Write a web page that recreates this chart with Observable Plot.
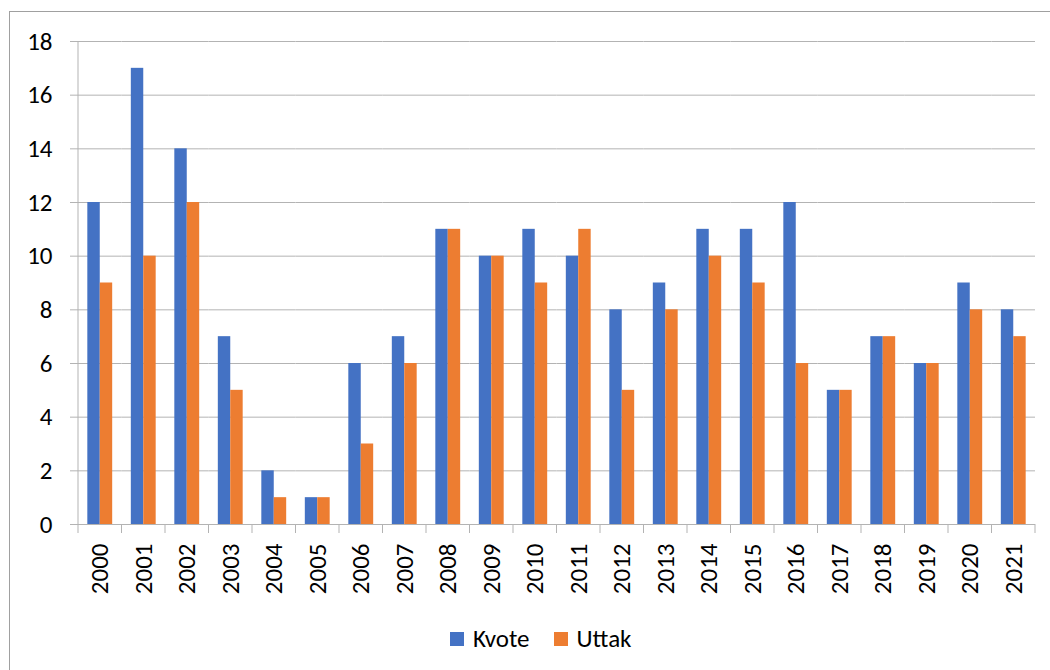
<!DOCTYPE html>
<html>
<head>
<meta charset="utf-8">
<script src="https://cdn.jsdelivr.net/npm/d3@7"></script>
<script src="https://cdn.jsdelivr.net/npm/@observablehq/plot@0.6"></script>
<style>
  html, body { margin: 0; padding: 0; background: #fff; overflow: hidden; }
  #wrap { position: relative; width: 1050px; height: 670px; font-family: Calibri, Carlito, Lato, sans-serif; }
  #border { position: absolute; left: 9px; top: 11px; width: 1100px; height: 700px; border: 1px solid #a0a0a0; box-sizing: border-box; }
  #chart { position: absolute; left: 0; top: 0; }
  #legend { position: absolute; top: 623px; left: 450px; display: flex; align-items: center; font-size: 25px; color: #000; }
  .item { display: flex; align-items: center; margin-right: 24px; }
  .sw { width: 14px; height: 14px; margin-right: 9px; }
</style>
</head>
<body>
<div id="wrap">
  <div id="border"></div>
  <div id="chart"></div>
  <div id="legend"></div>
</div>
<script>
const years = ["2000","2001","2002","2003","2004","2005","2006","2007","2008","2009","2010","2011","2012","2013","2014","2015","2016","2017","2018","2019","2020","2021"];
const kvote = [12,17,14,7,2,1,6,7,11,10,11,10,8,9,11,11,12,5,7,6,9,8];
const uttak = [9,10,12,5,1,1,3,6,11,10,9,11,5,8,10,9,6,5,7,6,8,7];
const seriesNames = ["Kvote","Uttak"];
const seriesColors = ["#4472C4","#ED7D31"];
const yTicks = [0,2,4,6,8,10,12,14,16,18];

const data = [];
years.forEach((yr, i) => {
  data.push({year: yr, series: "Kvote", value: kvote[i]});
  data.push({year: yr, series: "Uttak", value: uttak[i]});
});

const gridColor = "#b3b3b3";

const frameMarks = (index, scales, values, dims) => {
  const g = d3.create("svg:g");
  const fx = scales.fx;
  const W = dims.width - dims.marginLeft - dims.marginRight;
  const step = W / years.length;
  let bw = step;
  if (fx && typeof fx.bandwidth === "function") bw = fx.bandwidth();
  else if (fx && typeof fx.bandwidth === "number") bw = fx.bandwidth;
  const edges = d3.range(years.length + 1).map(i =>
    fx ? (i < years.length ? fx(years[i]) : fx(years[years.length - 1]) + bw) : dims.marginLeft + i * step)
    .filter(e => Number.isFinite(e));
  const y = scales.y;
  const y0 = y ? y(0) : dims.height - dims.marginBottom;
  const yTop = y ? y(d3.max(yTicks)) : dims.marginTop;
  g.append("line").attr("x1", edges[0]).attr("x2", edges[0]).attr("y1", yTop).attr("y2", y0)
    .attr("stroke", gridColor);
  edges.forEach(e => {
    g.append("line").attr("x1", e).attr("x2", e).attr("y1", y0).attr("y2", y0 + 9).attr("stroke", gridColor);
  });
  return g.node();
};

const chart = Plot.plot({
  width: 1050,
  height: 610,
  marginTop: 41,
  marginBottom: 86,
  marginLeft: 78,
  marginRight: 15,
  style: {background: "transparent", fontFamily: "Calibri, Carlito, Lato, sans-serif", fontSize: "25px", color: "#000", overflow: "visible"},
  fx: {domain: years, padding: 0, round: false, label: null},
  x: {domain: seriesNames, paddingInner: 0, paddingOuter: 0.75, round: false, axis: null},
  y: {domain: [0, 18], label: null},
  color: {domain: seriesNames, range: seriesColors},
  marks: [
    Plot.gridY(yTicks, {stroke: gridColor, strokeOpacity: 1, strokeWidth: 1}),
    Plot.barY(data, {fx: "year", x: "series", y: "value", fill: "series", inset: 0}),
    Plot.axisY(yTicks, {tickSize: 8, tickPadding: 18, stroke: gridColor, strokeOpacity: 1, fontSize: 25, label: null, fill: "#000"}),
    Plot.axisFx({anchor: "bottom", tickSize: 0, tickRotate: -90, tickPadding: 19, fontSize: 25, label: null, fill: "#000"}),
    Plot.frame({facet: "super", stroke: gridColor, render: frameMarks})
  ]
});
document.getElementById("chart").appendChild(chart);

const legend = document.getElementById("legend");
seriesNames.forEach((name, i) => {
  const item = document.createElement("div");
  item.className = "item";
  const sw = document.createElement("div");
  sw.className = "sw";
  sw.style.background = seriesColors[i];
  const t = document.createElement("span");
  t.textContent = name;
  item.appendChild(sw);
  item.appendChild(t);
  legend.appendChild(item);
});
</script>
</body>
</html>
